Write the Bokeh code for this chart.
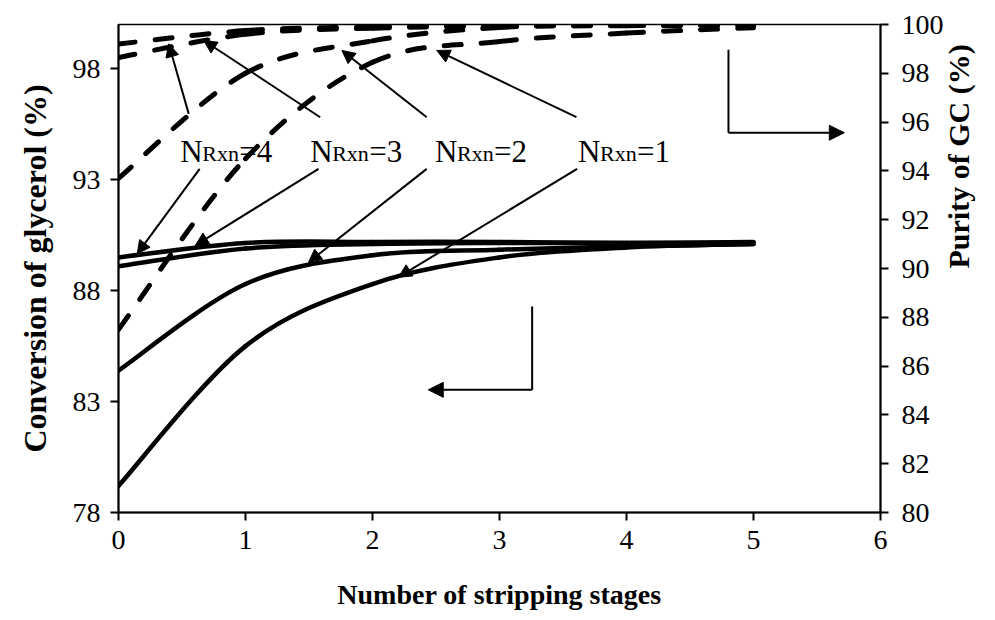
import math
from bokeh.plotting import figure
from bokeh.models import Range1d, LinearAxis, FixedTicker, Arrow, NormalHead, Label, ColumnDataSource
from bokeh.embed import file_html
from bokeh.resources import INLINE

# ---------------- data ----------------
stages = [0, 1, 2, 3, 4, 5]

# Conversion of glycerol (%), left axis, solid lines
conv_n1 = [79.2, 85.5, 88.3, 89.5, 89.95, 90.1]
conv_n2 = [84.4, 88.3, 89.6, 89.85, 90.0, 90.1]
conv_n3 = [89.1, 89.9, 90.1, 90.15, 90.15, 90.15]
conv_n4 = [89.5, 90.15, 90.2, 90.2, 90.15, 90.2]

# Purity of GC (%), right axis, dashed lines
pur_n1 = [87.5, 94.5, 98.45, 99.3, 99.65, 99.87]
pur_n2 = [93.7, 98.0, 99.33, 99.88, 99.95, 99.97]
pur_n3 = [98.65, 99.6, 99.85, 99.93, 99.96, 99.97]
pur_n4 = [99.2, 99.75, 99.9, 99.95, 99.97, 99.98]

x_ticks = [0, 1, 2, 3, 4, 5, 6]
left_ticks = [78, 83, 88, 93, 98]
right_ticks = [80, 82, 84, 86, 88, 90, 92, 94, 96, 98, 100]
n_labels = ["4", "3", "2", "1"]

FONT = "Liberation Serif"

# ---------------- figure ----------------
p = figure(width=995, height=620, x_range=Range1d(0, 6), y_range=Range1d(78, 100),
           output_backend="svg", toolbar_location=None,
           min_border_left=118, min_border_right=115, min_border_top=24, min_border_bottom=108)
p.extra_y_ranges = {"purity": Range1d(80, 100)}
p.xgrid.visible = False
p.ygrid.visible = False
p.outline_line_color = "black"
p.outline_line_width = 1.5
p.background_fill_color = "white"
p.border_fill_color = "white"


def style_axis(ax, ticks, title, title_size, label_standoff, title_standoff):
    ax.ticker = FixedTicker(ticks=ticks)
    ax.axis_label = title
    ax.axis_label_text_font = FONT
    ax.axis_label_text_font_style = "bold"
    ax.axis_label_text_font_size = title_size
    ax.axis_label_text_color = "black"
    ax.axis_label_standoff = title_standoff
    ax.major_label_text_font = FONT
    ax.major_label_text_font_size = "28px"
    ax.major_label_text_color = "black"
    ax.major_label_standoff = label_standoff
    ax.axis_line_width = 2
    ax.axis_line_color = "black"
    ax.major_tick_in = 0
    ax.major_tick_out = 8
    ax.major_tick_line_width = 2
    ax.major_tick_line_color = "black"
    ax.minor_tick_in = 0
    ax.minor_tick_out = 0


style_axis(p.xaxis[0], x_ticks, "Number of stripping stages", "28px", 10, 27)
style_axis(p.yaxis[0], left_ticks, "Conversion of glycerol (%)", "32px", 10, 17)

# right axis: ticks and numbers
ax_r = LinearAxis(y_range_name="purity")
style_axis(ax_r, right_ticks, None, "30px", 13, 10)
p.add_layout(ax_r, "right")

# right axis title: a bare axis whose bounds place the title where the reference has it
ax_t = LinearAxis(y_range_name="purity", bounds=(84.17, 90.17))
style_axis(ax_t, [], "Purity of GC (%)", "30px", 0, 12)
ax_t.axis_line_color = None
ax_t.major_tick_out = 0
ax_t.major_label_text_font_size = "0px"
try:
    ax_t.axis_label_orientation = math.pi / 2   # read bottom-to-top like the reference
except Exception:
    pass
p.add_layout(ax_t, "right")


# ---------------- smoothed curves (Excel-like Bezier through the points) ----------------
def bezier_source(xs, ys):
    n = len(xs)
    d = dict(x0=[], y0=[], x1=[], y1=[], cx0=[], cy0=[], cx1=[], cy1=[])
    for i in range(n - 1):
        a = max(i - 1, 0)
        b = min(i + 2, n - 1)
        d["x0"].append(xs[i]); d["y0"].append(ys[i])
        d["x1"].append(xs[i + 1]); d["y1"].append(ys[i + 1])
        d["cx0"].append(xs[i] + (xs[i + 1] - xs[a]) / 6.0)
        d["cy0"].append(ys[i] + (ys[i + 1] - ys[a]) / 6.0)
        d["cx1"].append(xs[i + 1] - (xs[b] - xs[i]) / 6.0)
        d["cy1"].append(ys[i + 1] - (ys[b] - ys[i]) / 6.0)
    return ColumnDataSource(d)


for series in (pur_n1, pur_n2, pur_n3, pur_n4):
    p.bezier(x0="x0", y0="y0", x1="x1", y1="y1", cx0="cx0", cy0="cy0", cx1="cx1", cy1="cy1",
             source=bezier_source(stages, series), y_range_name="purity",
             line_color="black", line_width=5, line_dash="17 20", line_cap="round")

for series in (conv_n1, conv_n2, conv_n3, conv_n4):
    p.bezier(x0="x0", y0="y0", x1="x1", y1="y1", cx0="cx0", cy0="cy0", cx1="cx1", cy1="cy1",
             source=bezier_source(stages, series),
             line_color="black", line_width=4.5, line_cap="round")

# ---------------- annotations ----------------
label_x = [0.487, 1.509, 2.492, 3.619]       # stage position of the "N" of each label
label_y = 94.29                               # baseline (left-axis units)
px_per_stage = 127.0
px_per_unit = 22.18

for lx, n in zip(label_x, n_labels):
    p.add_layout(Label(x=lx, y=label_y, text="N", text_font=FONT, text_font_size="31px",
                       text_baseline="alphabetic", text_align="left", text_color="black"))
    p.add_layout(Label(x=lx + 22 / px_per_stage, y=label_y - 2.7 / px_per_unit, text="Rxn",
                       text_font=FONT, text_font_size="22px",
                       text_baseline="alphabetic", text_align="left", text_color="black"))
    p.add_layout(Label(x=lx + 59 / px_per_stage, y=label_y, text="=" + n, text_font=FONT,
                       text_font_size="31px", text_baseline="alphabetic", text_align="left",
                       text_color="black"))

# pointer arrows: (x_start, y_start, x_end, y_end) in stage / left-axis units
pointers = [
    (0.553, 95.97, 0.395, 99.13),
    (1.588, 95.82, 0.671, 99.28),
    (2.427, 95.82, 1.759, 98.83),
    (3.606, 95.82, 2.506, 98.83),
    (0.639, 93.49, 0.147, 89.66),
    (1.575, 93.49, 0.605, 90.04),
    (2.427, 93.49, 1.496, 89.28),
    (3.611, 93.49, 2.204, 88.61),
]
for xs_, ys_, xe_, ye_ in pointers:
    p.add_layout(Arrow(x_start=xs_, y_start=ys_, x_end=xe_, y_end=ye_, line_width=2,
                       line_color="black",
                       end=NormalHead(size=13, fill_color="black", line_color="black", line_width=1)))

# axis-direction arrows (L shapes)
p.line(x=[3.257, 3.257], y=[87.29, 83.53], line_color="black", line_width=2)
p.add_layout(Arrow(x_start=3.257, y_start=83.53, x_end=2.439, y_end=83.53, line_width=2,
                   line_color="black",
                   end=NormalHead(size=15, fill_color="black", line_color="black", line_width=1)))
p.line(x=[4.803, 4.803], y=[98.86, 95.12], line_color="black", line_width=2)
p.add_layout(Arrow(x_start=4.803, y_start=95.12, x_end=5.715, y_end=95.12, line_width=2,
                   line_color="black",
                   end=NormalHead(size=15, fill_color="black", line_color="black", line_width=1)))

open("out.html", "w").write(file_html(p, INLINE))
